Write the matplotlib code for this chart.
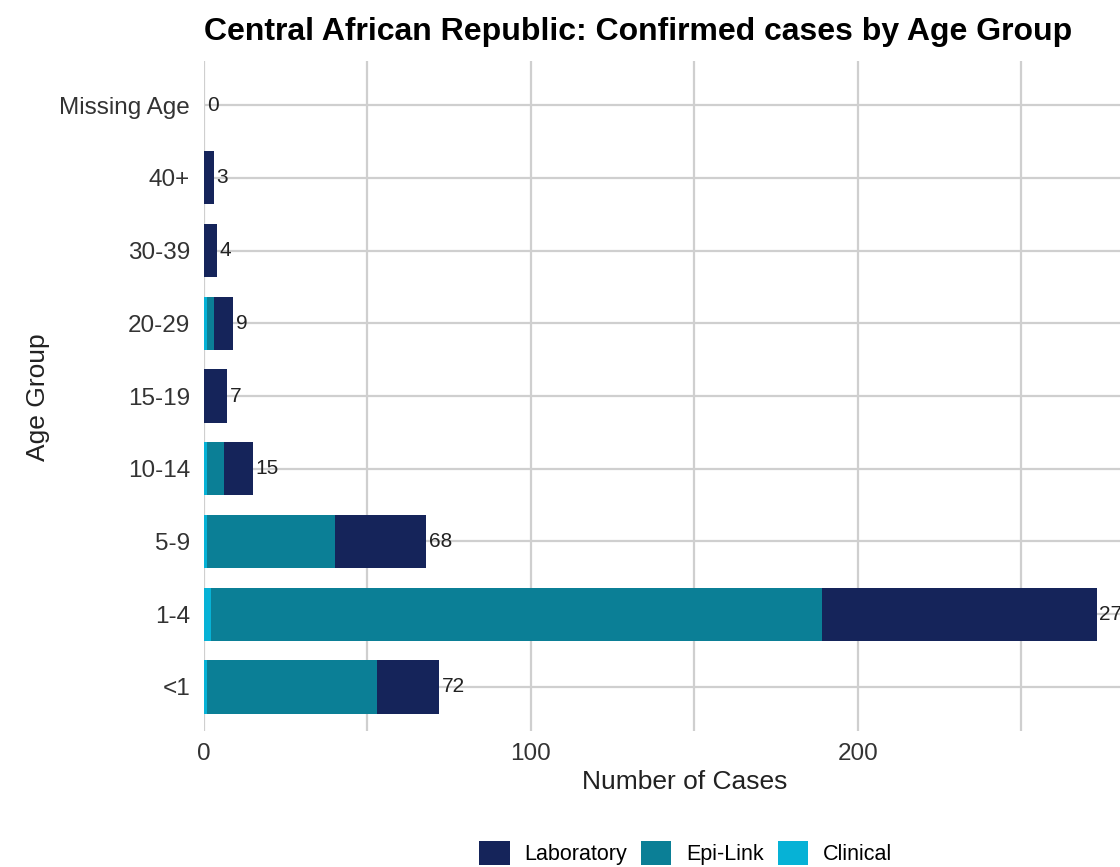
import numpy as np
import matplotlib.pyplot as plt

plt.rcParams['font.family'] = ['Liberation Sans', 'DejaVu Sans']

groups = ['<1', '1-4', '5-9', '10-14', '15-19', '20-29', '30-39', '40+', 'Missing Age']
clinical = [1, 2, 1, 1, 0, 1, 0, 0, 0]
epi_link = [52, 187, 39, 5, 0, 2, 0, 0, 0]
laboratory = [19, 84, 28, 9, 7, 6, 4, 3, 0]
totals = [72, 273, 68, 15, 7, 9, 4, 3, 0]

col_lab = '#15245a'
col_epi = '#0b7f96'
col_cli = '#06b2d6'

fig = plt.figure(figsize=(11.2, 8.67), dpi=100)
ax = fig.add_axes([204/1120, 1 - 730.6/867, 962/1120, (730.6 - 61.4)/867])

y = np.arange(len(groups))
h = 0.73
cli = np.array(clinical)
epi = np.array(epi_link)
lab = np.array(laboratory)
ax.barh(y, cli, height=h, color=col_cli, label='Clinical', zorder=3)
ax.barh(y, epi, left=cli, height=h, color=col_epi, label='Epi-Link', zorder=3)
ax.barh(y, lab, left=cli + epi, height=h, color=col_lab, label='Laboratory', zorder=3)

for yi, t in zip(y, totals):
    ax.annotate(str(t), (t, yi), xytext=(2, 0), textcoords='offset points',
                ha='left', va='center', fontsize=15, color='#222222', zorder=4,
                annotation_clip=False)

ax.set_xlim(0, 294.2)
ax.set_ylim(-0.6, 8.6)
ax.set_yticks(y)
ax.set_yticklabels(groups)
ax.set_xticks([0, 100, 200])
ax.set_xticks([50, 150, 250], minor=True)
ax.tick_params(axis='both', which='both', length=0, labelsize=17.5, labelcolor='#333333')
ax.tick_params(axis='x', pad=9)
ax.tick_params(axis='y', pad=10)
ax.grid(True, which='both', color='#cfcfcf', linewidth=1.6, zorder=0)
for s in ax.spines.values():
    s.set_visible(False)

fig.text(638/1120, 1 - 32/867, 'Central African Republic: Confirmed cases by Age Group',
         ha='center', va='center', fontsize=23, fontweight='bold', color='black')
fig.text(685/1120, 1 - 782/867, 'Number of Cases', ha='center', va='center',
         fontsize=19, color='#222222')
fig.text(38/1120, 1 - 397/867, 'Age Group', ha='center', va='center', rotation=90,
         fontsize=19, color='#222222')

handles, labels = ax.get_legend_handles_labels()
order = [2, 1, 0]
fig.legend([handles[i] for i in order], [labels[i] for i in order],
           loc='center', bbox_to_anchor=(686/1120, 1 - 853/867), ncol=3, frameon=False,
           fontsize=15.5, handlelength=1.4, handleheight=1.4, handletextpad=0.7,
           columnspacing=0.65)

fig.savefig('out.png', dpi=100)
